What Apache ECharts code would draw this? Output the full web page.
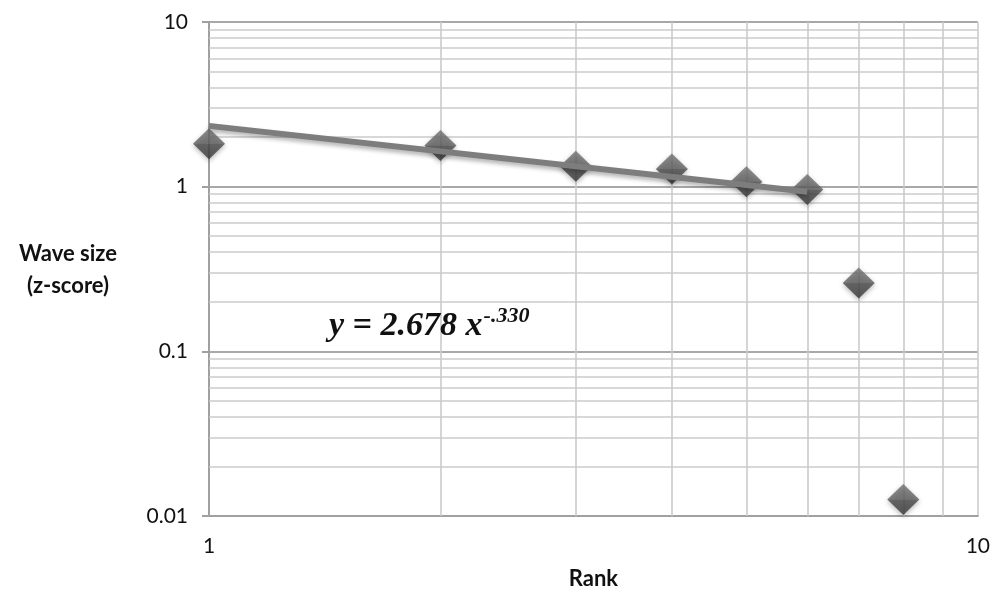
<!DOCTYPE html>
<html>
<head>
<meta charset="utf-8">
<script src="https://cdn.jsdelivr.net/npm/echarts@6/dist/echarts.min.js"></script>
<style>
  html, body { margin: 0; padding: 0; background: #ffffff; }
  #chart { width: 993px; height: 596px; }
</style>
</head>
<body>
<div id="chart"></div>
<script>
// Wave size (z-score) by rank, log-log
const ranks = [1, 2, 3, 4, 5, 6, 7, 8];
const waveSize = [1.82, 1.78, 1.33, 1.28, 1.07, 0.96, 0.26, 0.0126];

// Fitted power-law trend, drawn between its two end points
const trendRanks = [1, 6];
const trendValues = [2.34, 0.93];

// Minor grid values (2..9 within each decade)
const yMinorGrid = [0.02, 0.03, 0.04, 0.05, 0.06, 0.07, 0.08, 0.09,
                    0.2, 0.3, 0.4, 0.5, 0.6, 0.7, 0.8, 0.9,
                    2, 3, 4, 5, 6, 7, 8, 9];
const xMinorGrid = [2, 3, 4, 5, 6, 7, 8, 9];

const equationMain = 'y = 2.678 x';
const equationExp = '-.330';

const labelFont = 'Lato, "Open Sans", sans-serif';
const eqFont = '"Liberation Serif", "DejaVu Serif", serif';

const chart = echarts.init(document.getElementById('chart'));

const gridLineData = []
  .concat(yMinorGrid.map(v => ({ yAxis: v })))
  .concat(xMinorGrid.map(v => ({ xAxis: v })));

const fmt = v => String(+Number(v).toPrecision(3));

chart.setOption({
  animation: false,
  backgroundColor: '#ffffff',
  grid: { left: 209, right: 14, top: 22, bottom: 80 },
  xAxis: {
    type: 'log',
    logBase: 10,
    min: 1,
    max: 10,
    axisLine: { show: true, lineStyle: { color: '#a0a0a0', width: 2 } },
    axisTick: { show: false },
    axisLabel: { color: '#111', fontSize: 21, fontFamily: labelFont, margin: 20, formatter: fmt },
    splitLine: { show: true, lineStyle: { color: '#c8c8c8', width: 1.5 } },
    name: 'Rank',
    nameLocation: 'middle',
    nameGap: 52,
    nameTextStyle: { color: '#111', fontSize: 22, fontWeight: 'bold', fontFamily: labelFont }
  },
  yAxis: {
    type: 'log',
    logBase: 10,
    min: 0.01,
    max: 10,
    axisLine: { show: true, lineStyle: { color: '#a0a0a0', width: 2 } },
    axisTick: { show: true, inside: false, length: 7, lineStyle: { color: '#a0a0a0', width: 2 } },
    axisLabel: { color: '#111', fontSize: 21, fontFamily: labelFont, margin: 21, formatter: fmt },
    splitLine: { show: true, lineStyle: { color: '#a8a8a8', width: 2 } }
  },
  graphic: [
    {
      type: 'text', z: 10,
      x: 68, y: 270,
      style: {
        text: 'Wave size\n(z-score)',
        fill: '#111', font: 'bold 22px ' + labelFont,
        align: 'center', verticalAlign: 'middle', lineHeight: 32
      }
    },
    {
      type: 'text', z: 10,
      x: 329, y: 305,
      style: {
        text: '{m|' + equationMain + '}{s| }{e|' + equationExp + '}',
        rich: {
          m: { fill: '#111', fontSize: 34, fontWeight: 'bold', fontStyle: 'italic', fontFamily: eqFont, verticalAlign: 'bottom', lineHeight: 38 },
          s: { fontSize: 4, lineHeight: 38 },
          e: { fill: '#111', fontSize: 22, fontWeight: 'bold', fontStyle: 'italic', fontFamily: eqFont, verticalAlign: 'top', lineHeight: 38, padding: [0, 0, 17, 0] }
        }
      }
    }
  ],
  series: [
    {
      name: 'grid',
      type: 'line',
      data: [],
      silent: true,
      markLine: {
        z: 1,
        silent: true,
        symbol: 'none',
        label: { show: false },
        animation: false,
        lineStyle: { type: 'solid', color: '#cbcbcb', width: 1.6 },
        data: gridLineData
      }
    },
    {
      name: 'Wave size',
      type: 'scatter',
      z: 3,
      data: ranks.map((r, i) => [r, waveSize[i]]),
      symbol: 'diamond',
      symbolSize: [32, 31],
      itemStyle: {
        color: new echarts.graphic.LinearGradient(0, 0, 0, 1, [
          { offset: 0, color: '#747474' },
          { offset: 0.5, color: '#5e5e5e' },
          { offset: 0.51, color: '#4c4c4c' },
          { offset: 1, color: '#383838' }
        ]),
        shadowBlur: 5,
        shadowColor: 'rgba(0,0,0,0.35)',
        shadowOffsetY: 2
      }
    },
    {
      name: 'Trend',
      type: 'line',
      z: 4,
      data: trendRanks.map((r, i) => [r, trendValues[i]]),
      symbol: 'none',
      lineStyle: {
        color: '#7d7d7d',
        width: 6,
        shadowBlur: 4,
        shadowColor: 'rgba(0,0,0,0.3)',
        shadowOffsetY: 3
      }
    }
  ]
});
</script>
</body>
</html>
